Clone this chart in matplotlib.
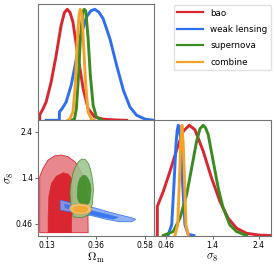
import matplotlib; matplotlib.use('Agg')
import matplotlib.pyplot as plt
from matplotlib.patches import Polygon
from matplotlib.lines import Line2D

plt.rcParams['mathtext.fontset'] = 'cm'

labels = ['bao', 'weak lensing', 'supernova', 'combine']
cols = ['#d92630', '#2d6ff0', '#3b8a22', '#f4a22a']
light = ['#e8878c', '#7fa3f5', '#99c28a', '#f8c878']

# 1D marginals, Omega_m
om_x = [[0.1005, 0.1005, 0.115, 0.130, 0.153, 0.176, 0.199, 0.214, 0.227, 0.240, 0.253, 0.276, 0.300, 0.323, 0.353, 0.392, 0.45, 0.50],
        [0.13, 0.191, 0.191, 0.205, 0.222, 0.245, 0.269, 0.292, 0.315, 0.335, 0.353, 0.372, 0.392, 0.423, 0.454, 0.485, 0.515, 0.546, 0.585, 0.627],
        [0.24, 0.26, 0.269, 0.279, 0.288, 0.299, 0.305, 0.312, 0.323, 0.333, 0.346, 0.361, 0.385],
        [0.23, 0.238, 0.253, 0.264, 0.273, 0.281, 0.287, 0.295, 0.302, 0.312, 0.323, 0.338, 0.35]]
om_y = [[0, 0.05, 0.10, 0.165, 0.345, 0.585, 0.856, 0.97, 1.0, 0.97, 0.886, 0.585, 0.285, 0.105, 0.03, 0.01, 0.003, 0],
        [0, 0, 0.075, 0.11, 0.165, 0.315, 0.555, 0.78, 0.93, 0.985, 1.0, 0.975, 0.915, 0.735, 0.495, 0.27, 0.12, 0.045, 0.01, 0],
        [0, 0.01, 0.105, 0.405, 0.765, 0.98, 1.0, 0.985, 0.735, 0.405, 0.135, 0.03, 0],
        [0, 0.01, 0.075, 0.315, 0.705, 0.945, 1.0, 0.945, 0.675, 0.315, 0.075, 0.01, 0]]

# 1D marginals, sigma_8
s8_x = [[0.274, 0.274, 0.401, 0.543, 0.685, 0.824, 0.952, 1.072, 1.248, 1.426, 1.602, 1.778, 1.956, 2.168, 2.45, 2.68],
        [0.50, 0.579, 0.627, 0.67, 0.695, 0.718, 0.742, 0.769, 0.812, 0.86, 0.93, 1.05],
        [0.40, 0.613, 0.754, 0.896, 1.002, 1.108, 1.18, 1.248, 1.30, 1.354, 1.46, 1.566, 1.672, 1.814, 1.956, 2.17],
        [0.649, 0.706, 0.74, 0.769, 0.797, 0.824, 0.854, 0.882, 0.93]]
s8_y = [[0, 0.264, 0.40, 0.582, 0.778, 0.945, 1.0, 0.96, 0.764, 0.52, 0.31, 0.157, 0.066, 0.02, 0.003, 0],
        [0, 0.097, 0.46, 0.824, 0.95, 1.0, 0.97, 0.885, 0.46, 0.097, 0.01, 0],
        [0, 0.036, 0.157, 0.37, 0.612, 0.855, 0.97, 1.0, 0.975, 0.915, 0.673, 0.43, 0.248, 0.096, 0.036, 0],
        [0, 0.097, 0.46, 0.824, 1.0, 0.824, 0.46, 0.097, 0]]

# 2D contours (Omega_m, sigma_8): outer (95%) and inner (68%)
outer = [
    [(0.1005, 0.27), (0.1005, 1.469), (0.1158, 1.649), (0.1389, 1.827), (0.1699, 1.919), (0.2005, 1.934),
     (0.2315, 1.897), (0.2625, 1.790), (0.2765, 1.70), (0.300, 1.478), (0.315, 1.157), (0.322, 0.73), (0.323, 0.27)],
    [(0.1945, 0.970), (0.2375, 0.920), (0.2996, 0.863), (0.3611, 0.792), (0.4227, 0.707), (0.4847, 0.634),
     (0.5232, 0.591), (0.5417, 0.557), (0.5232, 0.505), (0.4690, 0.505), (0.4074, 0.557), (0.3459, 0.628),
     (0.2838, 0.685), (0.2375, 0.720), (0.1945, 0.756)],
    [(0.2931, 1.848), (0.2780, 1.790), (0.2653, 1.683), (0.2540, 1.560), (0.2468, 1.398), (0.2410, 1.250),
     (0.2394, 1.114), (0.2420, 0.950), (0.2468, 0.792), (0.2546, 0.613), (0.2740, 0.595), (0.2931, 0.591),
     (0.3241, 0.649), (0.3360, 0.760), (0.3426, 0.900), (0.3472, 1.184), (0.3450, 1.350), (0.3394, 1.505),
     (0.3330, 1.640), (0.3241, 1.756), (0.3088, 1.842)],
    [(0.2375, 0.80), (0.241, 0.835), (0.250, 0.862), (0.262, 0.878), (0.275, 0.885), (0.290, 0.886), (0.305, 0.88),
     (0.320, 0.865), (0.330, 0.84), (0.337, 0.805), (0.338, 0.77), (0.335, 0.73), (0.328, 0.70), (0.315, 0.680),
     (0.300, 0.670), (0.285, 0.668), (0.270, 0.675), (0.257, 0.692), (0.247, 0.72), (0.240, 0.76)]]
inner = [
    [(0.1389, 0.27), (0.1389, 0.613), (0.1421, 1.041), (0.1542, 1.328), (0.1773, 1.484), (0.2084, 1.555),
     (0.2315, 1.527), (0.2468, 1.435), (0.249, 1.30), (0.250, 1.00), (0.248, 0.60), (0.247, 0.27)],
    [(0.2144, 0.878), (0.2685, 0.827), (0.3459, 0.735), (0.4227, 0.649), (0.4616, 0.600), (0.4384, 0.563),
     (0.3764, 0.613), (0.3148, 0.685), (0.2533, 0.756), (0.2190, 0.805)],
    [(0.3009, 1.505), (0.2857, 1.435), (0.2790, 1.350), (0.2746, 1.255), (0.2732, 1.041), (0.2780, 0.950),
     (0.2857, 0.900), (0.3000, 0.868), (0.3162, 0.863), (0.3270, 0.900), (0.3320, 0.970), (0.3366, 1.184),
     (0.3340, 1.300), (0.3273, 1.398), (0.3134, 1.491)],
    [(0.2533, 0.79), (0.257, 0.815), (0.265, 0.83), (0.275, 0.840), (0.285, 0.842), (0.297, 0.840), (0.308, 0.83),
     (0.318, 0.808), (0.3227, 0.78), (0.320, 0.75), (0.315, 0.725), (0.305, 0.711), (0.295, 0.707), (0.282, 0.708),
     (0.270, 0.715), (0.262, 0.728), (0.257, 0.745), (0.254, 0.765)]]

om_lim = (0.094, 0.627); s8_lim = (0.21, 2.68)
om_ticks = [0.1325, 0.3575, 0.5825]; om_tl = ['0.13', '0.36', '0.58']
s8_ticks = [0.46, 1.445, 2.43]; s8_tl = ['0.46', '1.4', '2.4']

fig = plt.figure(figsize=(2.76, 2.66), dpi=100)
W, H = 276., 266.
def mk(x0, y0, x1, y1):
    return fig.add_axes([x0/W, 1-y1/H, (x1-x0)/W, (y1-y0)/H])
a1 = mk(38.3, 4.3, 154.3, 120.3)
a2 = mk(38.3, 120.3, 154.3, 235.5)
a3 = mk(154.3, 120.3, 270.7, 235.5)

for ax in (a1, a2, a3):
    for s in ax.spines.values():
        s.set_color('0.45'); s.set_linewidth(0.8)
    ax.tick_params(labelsize=5.5, length=2.5, width=0.6, pad=1.5, color='0.3')

for i in range(4):
    a1.plot(om_x[i], om_y[i], color=cols[i], lw=2.1, solid_joinstyle='round')
    a3.plot(s8_x[i], s8_y[i], color=cols[i], lw=2.1, solid_joinstyle='round')
    al = 1.0 if i == 0 else 0.85
    a2.add_patch(Polygon(outer[i], closed=True, fc=light[i], ec=cols[i], lw=0.6, alpha=al))
    a2.add_patch(Polygon(inner[i], closed=True, fc=cols[i], ec=cols[i], lw=0.4, alpha=al))

a1.set_xlim(om_lim); a1.set_ylim(0, 1.045)
a1.set_xticks(om_ticks); a1.set_xticklabels([]); a1.set_yticks([])
a2.set_xlim(om_lim); a2.set_ylim(s8_lim)
a2.set_xticks(om_ticks); a2.set_xticklabels(om_tl)
a2.set_yticks(s8_ticks); a2.set_yticklabels(s8_tl)
a2.tick_params(right=True)
a3.set_xlim(s8_lim); a3.set_ylim(0, 1.045)
a3.set_xticks(s8_ticks); a3.set_xticklabels(s8_tl); a3.set_yticks([])

a2.set_xlabel(r'$\Omega_{\rm m}$', fontsize=8.5, labelpad=1)
a2.set_ylabel(r'$\sigma_8$', fontsize=8.5, labelpad=0)
a3.set_xlabel(r'$\sigma_8$', fontsize=8.5, labelpad=1)

hs = [Line2D([], [], color=c, lw=1.6) for c in cols]
fig.legend(hs, labels, loc='upper right', bbox_to_anchor=(271/W, 1-5/H), fontsize=6.3,
           handlelength=3.0, labelspacing=0.85, borderpad=0.4, handletextpad=0.8,
           borderaxespad=0, frameon=True, edgecolor='0.85', fancybox=True)

plt.savefig('out.png', dpi=100)
